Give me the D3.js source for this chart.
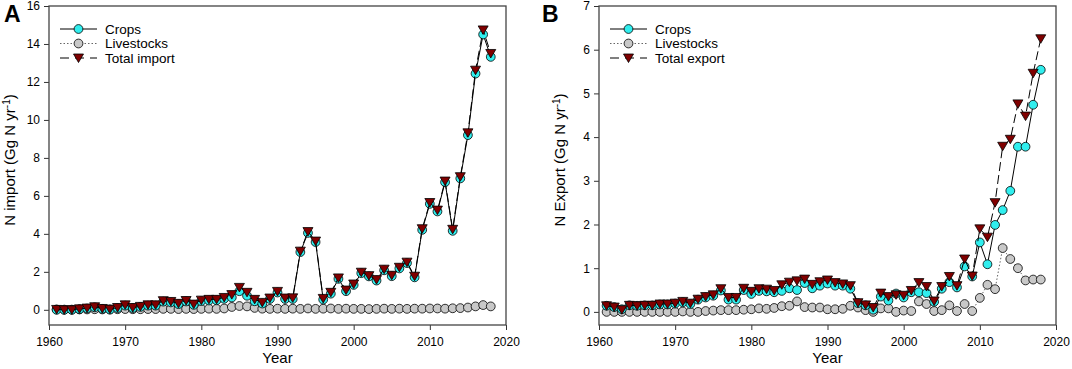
<!DOCTYPE html>
<html>
<head>
<meta charset="utf-8">
<script src="https://cdn.jsdelivr.net/npm/d3@7"></script>
<style>
    body { margin: 0; background: #fff; }
    svg { font-family: 'Liberation Sans', Arial, sans-serif; display: block; }
    .tick text { font-size: 12px; fill: #000; }
    .tick line { stroke: #333; }
    .axis-title { font-size: 15px; }
    .legend-label { font-size: 13.5px; }
    .panel-label { font-size: 23px; font-weight: bold; }
</style>
</head>
<body>
<svg id="chart" width="1072" height="369"></svg>
<script>
const years = d3.range(1961, 2019);

// Panel A - N import (Gg N yr-1)
const importCrops = [0.00, 0.00, 0.00, 0.03, 0.07, 0.13, 0.05, 0.01, 0.09, 0.22,
    0.09, 0.15, 0.22, 0.22, 0.43, 0.39, 0.30, 0.44, 0.26, 0.46,
    0.49, 0.50, 0.58, 0.65, 0.98, 0.74, 0.45, 0.33, 0.57, 0.91,
    0.57, 0.57, 3.04, 4.05, 3.57, 0.54, 0.85, 1.63, 0.98, 1.31,
    1.93, 1.76, 1.54, 2.08, 1.77, 2.18, 2.46, 1.71, 4.21, 5.58,
    5.18, 6.72, 4.16, 6.92, 9.20, 12.44, 14.50, 13.32];
const importLivestocks = [0.02, 0.01, 0.01, 0.02, 0.02, 0.03, 0.02, 0.02, 0.03, 0.04,
    0.03, 0.03, 0.04, 0.04, 0.05, 0.05, 0.04, 0.05, 0.04, 0.05,
    0.06, 0.05, 0.07, 0.15, 0.20, 0.18, 0.10, 0.06, 0.05, 0.06,
    0.05, 0.06, 0.05, 0.07, 0.05, 0.06, 0.07, 0.05, 0.06, 0.05,
    0.05, 0.04, 0.05, 0.06, 0.05, 0.06, 0.05, 0.06, 0.06, 0.07,
    0.07, 0.06, 0.08, 0.09, 0.12, 0.18, 0.25, 0.18];
const importTotal = [0.02, 0.00, 0.00, 0.05, 0.09, 0.16, 0.07, 0.03, 0.12, 0.26,
    0.12, 0.18, 0.26, 0.26, 0.48, 0.44, 0.34, 0.49, 0.30, 0.51,
    0.55, 0.55, 0.65, 0.80, 1.18, 0.92, 0.55, 0.39, 0.62, 0.97,
    0.62, 0.63, 3.09, 4.12, 3.62, 0.60, 0.92, 1.68, 1.04, 1.36,
    1.98, 1.80, 1.59, 2.14, 1.82, 2.24, 2.51, 1.77, 4.27, 5.65,
    5.25, 6.78, 4.24, 7.01, 9.32, 12.62, 14.74, 13.50];

// Panel B - N export (Gg N yr-1)
const exportCrops = [0.14, 0.11, 0.06, 0.15, 0.14, 0.15, 0.15, 0.17, 0.17, 0.19,
    0.22, 0.18, 0.28, 0.33, 0.37, 0.49, 0.28, 0.28, 0.50, 0.41,
    0.48, 0.47, 0.45, 0.48, 0.54, 0.50, 0.66, 0.54, 0.60, 0.65,
    0.60, 0.60, 0.53, 0.20, 0.15, 0.05, 0.35, 0.26, 0.42, 0.33,
    0.45, 0.45, 0.43, 0.23, 0.53, 0.68, 0.56, 1.04, 0.81, 1.59,
    1.09, 1.99, 2.33, 2.77, 3.78, 3.78, 4.74, 5.54];
const exportLivestocks = [0.00, 0.00, 0.00, 0.00, 0.00, 0.00, 0.00, 0.00, 0.00, 0.00,
    0.01, 0.00, 0.00, 0.02, 0.03, 0.04, 0.04, 0.04, 0.05, 0.06,
    0.08, 0.07, 0.09, 0.13, 0.14, 0.24, 0.11, 0.10, 0.10, 0.06,
    0.06, 0.07, 0.14, 0.10, 0.04, 0.00, 0.08, 0.08, 0.00, 0.03,
    0.02, 0.24, 0.18, 0.02, 0.04, 0.15, 0.02, 0.18, 0.02, 0.32,
    0.62, 0.52, 1.46, 1.21, 1.00, 0.72, 0.74, 0.74];
const exportTotal = [0.14, 0.11, 0.05, 0.15, 0.14, 0.15, 0.15, 0.18, 0.18, 0.20,
    0.24, 0.20, 0.29, 0.35, 0.39, 0.53, 0.33, 0.33, 0.54, 0.47,
    0.53, 0.52, 0.49, 0.62, 0.68, 0.71, 0.75, 0.63, 0.69, 0.73,
    0.67, 0.64, 0.60, 0.21, 0.16, 0.10, 0.43, 0.35, 0.39, 0.38,
    0.49, 0.67, 0.58, 0.25, 0.58, 0.81, 0.60, 1.21, 0.82, 1.90,
    1.71, 2.50, 3.79, 3.95, 4.76, 4.48, 5.46, 6.25];

const xTicks = [1960, 1970, 1980, 1990, 2000, 2010, 2020];
const importTicks = [0, 2, 4, 6, 8, 10, 12, 14, 16];
const exportTicks = [0, 1, 2, 3, 4, 5, 6, 7];

const svg = d3.select('#chart');

const styles = {
    crops: { stroke: '#000', dash: null, fill: '#30eeee', marker: 'circle' },
    livestocks: { stroke: '#666', dash: '1.5,2', fill: '#c8c8c8', marker: 'circle' },
    total: { stroke: '#000', dash: '9,4', fill: '#800000', marker: 'triangle' }
};

const triangle = 'M-5,-4L5,-4L0,4.5Z';

function drawMarkers(g, pts, st) {
    if (st.marker === 'circle') {
        g.selectAll('circle')
            .data(pts)
            .join('circle')
            .attr('cx', d => d[0])
            .attr('cy', d => d[1])
            .attr('r', 4.4)
            .attr('fill', st.fill)
            .attr('stroke', '#000')
            .attr('stroke-width', 0.8);
    } else {
        g.selectAll('path')
            .data(pts)
            .join('path')
            .attr('d', triangle)
            .attr('transform', d => `translate(${d[0]},${d[1]})`)
            .attr('fill', st.fill)
            .attr('stroke', '#000')
            .attr('stroke-width', 0.8);
    }
}

function drawPanel(cfg) {
    const x = d3.scaleLinear().domain([1960, 2020]).range([cfg.left, cfg.left + 457]);
    const y = d3.scaleLinear().domain(cfg.yDomain).range([325, 6]);

    const g = svg.append('g');

    g.append('g')
        .attr('transform', `translate(${cfg.left},0)`)
        .call(d3.axisLeft(y).tickValues(cfg.yTicks).tickSize(5).tickPadding(4).tickFormat(d3.format('d')))
        .call(a => a.select('.domain').remove());

    g.append('g')
        .attr('transform', 'translate(0,325)')
        .call(d3.axisBottom(x).tickValues(xTicks).tickSize(5).tickPadding(7).tickFormat(d3.format('d')))
        .call(a => a.select('.domain').remove());

    g.append('rect')
        .attr('x', cfg.left)
        .attr('y', 6)
        .attr('width', 457)
        .attr('height', 319)
        .attr('fill', 'none')
        .attr('stroke', '#444')
        .attr('stroke-width', 1.3);

    const line = d3.line().x(d => x(d.year)).y(d => y(d.value));

    // livestocks first, then crops, total on top
    cfg.series.forEach(s => {
        const st = styles[s.key];
        const data = years.map((yr, i) => ({ year: yr, value: s.values[i] }));
        g.append('path')
            .datum(data)
            .attr('d', line)
            .attr('fill', 'none')
            .attr('stroke', st.stroke)
            .attr('stroke-width', 1)
            .attr('stroke-dasharray', st.dash);
        drawMarkers(g.append('g'), data.map(d => [x(d.year), y(d.value)]), st);
    });

    // legend
    const legend = g.append('g').attr('transform', `translate(${cfg.left + 11},29)`);
    cfg.legend.forEach((item, i) => {
        const st = styles[item.key];
        const row = legend.append('g').attr('transform', `translate(0,${i * 14.5})`);
        row.append('line')
            .attr('x1', 0).attr('x2', 37)
            .attr('stroke', st.stroke)
            .attr('stroke-width', 1)
            .attr('stroke-dasharray', item.key === 'total' ? '9,6' : st.dash);
        drawMarkers(row.append('g'), [[18.5, 0]], st);
        row.append('text')
            .attr('class', 'legend-label')
            .attr('x', 45)
            .attr('dy', '0.36em')
            .text(item.label);
    });

    g.append('text')
        .attr('class', 'axis-title')
        .attr('text-anchor', 'middle')
        .attr('x', cfg.left + 228.5)
        .attr('y', 363)
        .text('Year');

    const yTitle = g.append('text')
        .attr('class', 'axis-title')
        .attr('text-anchor', 'middle')
        .attr('transform', `translate(${cfg.left - 34},160) rotate(-90)`);
    yTitle.append('tspan').text(cfg.yTitle);
    yTitle.append('tspan').text(' yr');
    yTitle.append('tspan').attr('dy', -5).attr('font-size', '10px').text('-1');
    yTitle.append('tspan').attr('dy', 5).text(')');

    g.append('text')
        .attr('class', 'panel-label')
        .attr('x', cfg.labelX)
        .attr('y', 22)
        .text(cfg.label);
}

drawPanel({
    left: 49,
    yDomain: [-0.8, 16],
    yTicks: importTicks,
    yTitle: 'N import (Gg N',
    label: 'A',
    labelX: 4,
    series: [
        { key: 'livestocks', values: importLivestocks },
        { key: 'crops', values: importCrops },
        { key: 'total', values: importTotal }
    ],
    legend: [
        { key: 'crops', label: 'Crops' },
        { key: 'livestocks', label: 'Livestocks' },
        { key: 'total', label: 'Total import' }
    ]
});

drawPanel({
    left: 599,
    yDomain: [-0.3, 7],
    yTicks: exportTicks,
    yTitle: 'N Export (Gg N',
    label: 'B',
    labelX: 542,
    series: [
        { key: 'livestocks', values: exportLivestocks },
        { key: 'crops', values: exportCrops },
        { key: 'total', values: exportTotal }
    ],
    legend: [
        { key: 'crops', label: 'Crops' },
        { key: 'livestocks', label: 'Livestocks' },
        { key: 'total', label: 'Total export' }
    ]
});
</script>
</body>
</html>
